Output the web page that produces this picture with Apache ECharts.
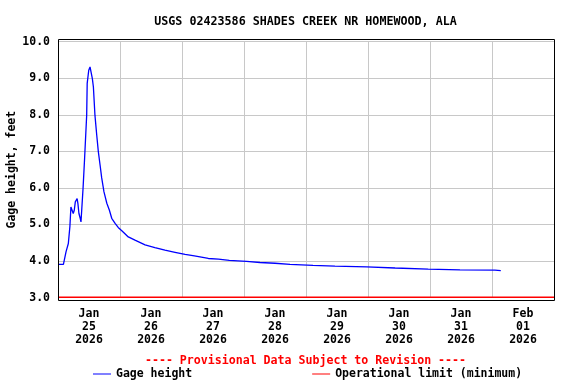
<!DOCTYPE html>
<html>
<head>
<meta charset="utf-8">
<script src="https://cdn.jsdelivr.net/npm/echarts@6/dist/echarts.min.js"></script>
<style>
html,body{margin:0;padding:0;background:#fff;}
#c{width:576px;height:384px;}
</style>
</head>
<body>
<div id="c"></div>
<script>
// Hours since Jan 24 2026 00:00
const hours = [0.3, 2.1, 3.1, 4.0, 4.6, 5.0, 5.4, 5.9, 6.3, 6.7, 7.4, 7.7, 8.1, 8.6, 8.9, 9.3, 9.7, 10.3, 10.7, 11.1, 11.3, 11.9, 12.4, 12.8, 13.3, 13.7, 14.3, 15.0, 15.6, 16.3, 16.9, 17.8, 18.9, 19.9, 20.8, 22.1, 23.3, 24.7, 27.2, 29.8, 33.7, 37.5, 41.4, 45.3, 49.2, 52.8, 58.2, 62.1, 66.3, 73.0, 78.2, 84.0, 89.8, 98.7, 107.2, 119.5, 130.5, 143.3, 155.6, 169.1, 171.4];
const gageHeight = [3.91, 3.91, 4.25, 4.48, 4.94, 5.48, 5.44, 5.30, 5.39, 5.62, 5.71, 5.58, 5.30, 5.17, 5.07, 5.12, 5.99, 6.81, 6.85, 7.99, 8.86, 9.22, 9.31, 9.28, 8.99, 8.76, 7.99, 7.44, 7.00, 6.62, 6.28, 5.89, 5.58, 5.39, 5.17, 5.03, 4.92, 4.83, 4.66, 4.57, 4.44, 4.37, 4.30, 4.24, 4.18, 4.14, 4.07, 4.05, 4.02, 3.99, 3.96, 3.94, 3.91, 3.88, 3.86, 3.84, 3.81, 3.78, 3.76, 3.75, 3.74];
const limitHours = [0, 192];
const limitValues = [3.01, 3.01];
const dayLabels = ['Jan\n25\n2026', 'Jan\n26\n2026', 'Jan\n27\n2026', 'Jan\n28\n2026', 'Jan\n29\n2026', 'Jan\n30\n2026', 'Jan\n31\n2026', 'Feb\n01\n2026'];
const titleText = 'USGS 02423586 SHADES CREEK NR HOMEWOOD, ALA';
const provisionalText = '---- Provisional Data Subject to Revision ----';
const seriesNames = ['Gage height', 'Operational limit (minimum)'];
const yAxisName = 'Gage height, feet';

const FONT = 'DejaVu Sans Mono';
const chart = echarts.init(document.getElementById('c'), null, {renderer: 'canvas'});
const gridTop = 41.7, gridBottom = 384 - 297.6;
chart.setOption({
  animation: false,
  backgroundColor: '#fff',
  title: [
    {text: titleText, left: 305.5, top: 16, textAlign: 'center', padding: 0,
     textStyle: {fontFamily: FONT, fontWeight: 'bold', fontSize: 11.7, color: '#000'}},
    {text: provisionalText, left: 305.5, top: 354.5, textAlign: 'center', padding: 0,
     textStyle: {fontFamily: FONT, fontWeight: 'bold', fontSize: 11.6, color: '#ff0000'}}
  ],
  legend: {
    left: 93, top: 368, padding: 0, itemWidth: 18, itemHeight: 1, itemGap: 120,
    icon: 'rect',
    textStyle: {fontFamily: FONT, fontWeight: 'bold', fontSize: 11.5, color: '#000'},
    data: [
      {name: seriesNames[0], itemStyle: {color: '#0000ff'}},
      {name: seriesNames[1], itemStyle: {color: '#ff0000'}}
    ]
  },
  grid: {left: 58, right: 22, top: gridTop, bottom: gridBottom, containLabel: false, outerBoundsMode: 'none'},
  xAxis: [
    {type: 'value', min: 0, max: 192, interval: 24,
     axisLine: {show: false}, axisTick: {show: false}, axisLabel: {show: false},
     splitLine: {show: true, lineStyle: {color: '#c8c8c8', width: 1}}},
    {type: 'value', min: 0, max: 192, interval: 12, position: 'bottom',
     axisLine: {show: false}, axisTick: {show: false}, splitLine: {show: false},
     axisLabel: {show: true, margin: 10, lineHeight: 13,
       fontFamily: FONT, fontWeight: 'bold', fontSize: 11.5, color: '#000',
       formatter: function (v) { const k = Math.round(v / 12); return (k % 2 === 1) ? dayLabels[(k - 1) / 2] : ''; }}}
  ],
  yAxis: {
    type: 'value', min: 3, max: 10, interval: 1,
    name: yAxisName, nameLocation: 'middle', nameGap: 40, nameMoveOverlap: false,
    nameTextStyle: {fontFamily: FONT, fontWeight: 'bold', fontSize: 11.5, color: '#000'},
    axisLine: {show: false}, axisTick: {show: false},
    axisLabel: {margin: 8, fontFamily: FONT, fontWeight: 'bold', fontSize: 11.5, color: '#000',
      formatter: function (v) { return v.toFixed(1); }},
    splitLine: {show: true, lineStyle: {color: '#c8c8c8', width: 1}}
  },
  graphic: [
    {type: 'rect', shape: {x: 58.5, y: 39.5, width: 496, height: 261}, z: 100,
     style: {fill: null, stroke: '#000', lineWidth: 1}}
  ],
  series: [
    {name: seriesNames[0], type: 'line', xAxisIndex: 0, showSymbol: false, symbol: 'none',
     lineStyle: {color: '#0000ff', width: 1.3}, itemStyle: {color: '#0000ff'},
     data: hours.map((h, i) => [h, gageHeight[i]]), z: 3},
    {name: seriesNames[1], type: 'line', xAxisIndex: 0, showSymbol: false, symbol: 'none', clip: false,
     lineStyle: {color: '#ff0000', width: 1.3}, itemStyle: {color: '#ff0000'},
     data: limitHours.map((h, i) => [h, limitValues[i]]), z: 4}
  ]
});
</script>
</body>
</html>
